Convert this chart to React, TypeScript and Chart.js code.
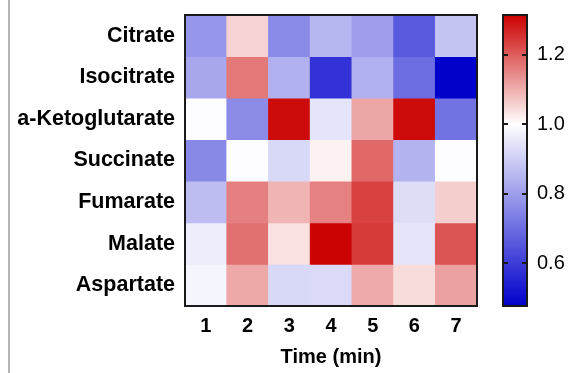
import React, { useEffect, useRef } from "react";
import { Chart, registerables } from "chart.js";

Chart.register(...registerables);

const rowLabels = ["Citrate", "Isocitrate", "a-Ketoglutarate", "Succinate", "Fumarate", "Malate", "Aspartate"];
const timeLabels = ["1", "2", "3", "4", "5", "6", "7"];

const citrate = [0.785, 1.055, 0.76, 0.85, 0.8, 0.66, 0.88];
const isocitrate = [0.82, 1.165, 0.84, 0.58, 0.84, 0.7, 0.48];
const aKetoglutarate = [0.995, 0.765, 1.3, 0.945, 1.11, 1.3, 0.71];
const succinate = [0.755, 0.995, 0.92, 1.016, 1.185, 0.845, 0.995];
const fumarate = [0.865, 1.157, 1.092, 1.155, 1.234, 0.93, 1.06];
const malate = [0.963, 1.176, 1.037, 1.31, 1.243, 0.945, 1.21];
const aspartate = [0.98, 1.107, 0.92, 0.925, 1.105, 1.043, 1.116];

const colorbarTicks = [0.6, 0.8, 1.0, 1.2];
const scaleMin = 0.477;
const scaleMid = 1.0;
const scaleMax = 1.314;

const BLUE = [0, 0, 204];
const RED = [204, 0, 0];
const WHITE = [255, 255, 255];

function mix(a: number[], b: number[], t: number) {
  return a.map((v, i) => Math.round(v + (b[i] - v) * t));
}
function colorFor(v: number) {
  let c;
  if (v <= scaleMid) {
    const t = Math.min(1, Math.max(0, (scaleMid - v) / (scaleMid - scaleMin)));
    c = mix(WHITE, BLUE, t);
  } else {
    const t = Math.min(1, Math.max(0, (v - scaleMid) / (scaleMax - scaleMid)));
    c = mix(WHITE, RED, t);
  }
  return `rgb(${c[0]},${c[1]},${c[2]})`;
}

const FONT = "'Liberation Sans', Arial, Helvetica, sans-serif";

function noPad(scale: any) {
  scale.paddingTop = 0;
  scale.paddingBottom = 0;
  scale.paddingLeft = 0;
  scale.paddingRight = 0;
}

export default function App() {
  const ref = useRef<HTMLCanvasElement | null>(null);
  useEffect(() => {
    if (!ref.current) return;
    const rows = [citrate, isocitrate, aKetoglutarate, succinate, fumarate, malate, aspartate];
    const datasets = rows.map((vals, r) => ({
      label: rowLabels[r],
      data: vals.map(() => [r, r + 1]),
      backgroundColor: vals.map(colorFor),
      borderWidth: 0,
      grouped: false,
      barPercentage: 1,
      categoryPercentage: 1,
    }));

    const framePlugin = {
      id: "frame",
      afterDraw(chart: any) {
        const ctx = chart.ctx;
        const { left, top, right, bottom } = chart.chartArea;
        ctx.save();
        ctx.strokeStyle = "#1a1a1a";
        ctx.lineWidth = 2;
        ctx.strokeRect(left, top, right - left, bottom - top);
        // colorbar
        const cb = chart.scales.cb;
        const y1 = cb.getPixelForValue(scaleMax);
        const y2 = cb.getPixelForValue(scaleMin);
        const x1 = 503;
        const x2 = 527;
        const grad = ctx.createLinearGradient(0, y1, 0, y2);
        grad.addColorStop(0, colorFor(scaleMax));
        grad.addColorStop((cb.getPixelForValue(scaleMid) - y1) / (y2 - y1), colorFor(scaleMid));
        grad.addColorStop(1, colorFor(scaleMin));
        ctx.fillStyle = grad;
        ctx.fillRect(x1, y1, x2 - x1, y2 - y1);
        ctx.strokeRect(x1, y1, x2 - x1, y2 - y1);
        ctx.beginPath();
        colorbarTicks.forEach((v) => {
          const y = Math.round(cb.getPixelForValue(v));
          ctx.moveTo(x1, y);
          ctx.lineTo(x1 + 5, y);
          ctx.moveTo(x2 - 5, y);
          ctx.lineTo(x2, y);
        });
        ctx.stroke();
        ctx.restore();
      },
    };

    const chart = new Chart(ref.current, {
      type: "bar",
      data: { labels: timeLabels, datasets: datasets as any },
      options: {
        animation: false,
        responsive: false,
        devicePixelRatio: 1,
        layout: { padding: { top: 15, right: 0, left: 0, bottom: 0 } },
        plugins: { legend: { display: false }, tooltip: { enabled: false } },
        scales: {
          x: {
            type: "category",
            grid: { display: false, drawTicks: false },
            border: { display: false },
            ticks: { color: "#000", padding: 8, font: { family: FONT, size: 20, weight: "bold" } },
            title: {
              display: true,
              text: "Time (min)",
              color: "#000",
              padding: { top: 0, bottom: 4 },
              font: { family: FONT, size: 20, weight: "bold" },
            },
            afterFit(scale: any) {
              scale.height = 67;
              noPad(scale);
            },
          },
          y: {
            type: "linear",
            min: 0,
            max: 7,
            reverse: true,
            grid: { display: false, drawTicks: false },
            border: { display: false },
            afterBuildTicks(scale: any) {
              scale.ticks = rowLabels.map((_, i) => ({ value: i + 0.5 }));
            },
            ticks: {
              color: "#000",
              padding: 10,
              autoSkip: false,
              font: { family: FONT, size: 21.5, weight: "bold" },
              callback: (_v: any, i: number) => rowLabels[i],
            },
            afterFit(scale: any) {
              scale.width = 185;
              noPad(scale);
            },
          },
          cb: {
            type: "linear",
            axis: "y",
            position: "right",
            min: scaleMin,
            max: scaleMax,
            grid: { display: false, drawTicks: false },
            border: { display: false },
            afterBuildTicks(scale: any) {
              scale.ticks = colorbarTicks.map((v) => ({ value: v }));
            },
            ticks: {
              color: "#000",
              padding: 60,
              font: { family: FONT, size: 20 },
              callback: (v: any) => Number(v).toFixed(1),
            },
            afterFit(scale: any) {
              scale.width = 97;
              noPad(scale);
            },
          },
        },
      } as any,
      plugins: [framePlugin],
    });
    return () => chart.destroy();
  }, []);

  return (
    <div style={{ position: "fixed", left: 0, top: 0, width: 574, height: 373, background: "#fff" }}>
      <div style={{ position: "absolute", left: 8, top: 0, width: 2, height: 373, background: "#b4b4b4" }} />
      <canvas ref={ref} width={574} height={373} style={{ position: "absolute", left: 0, top: 0 }} />
    </div>
  );
}
